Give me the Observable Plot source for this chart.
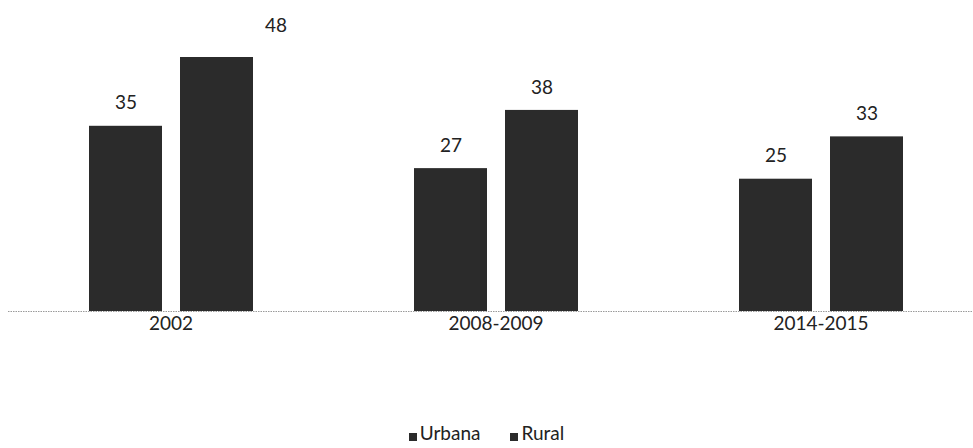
<!DOCTYPE html>
<html>
<head>
<meta charset="utf-8">
<script src="https://cdn.jsdelivr.net/npm/d3@7"></script>
<script src="https://cdn.jsdelivr.net/npm/@observablehq/plot@0.6"></script>
<style>
  html, body { margin: 0; padding: 0; background: #fff; }
  body { position: relative; width: 973px; height: 448px; overflow: hidden; font-family: Lato, "Open Sans", sans-serif; color: #222; }
  #chart svg { display: block; }
  #legend { position: absolute; left: 0; top: 423px; width: 973px; display: flex; justify-content: center; font-size: 19px; line-height: 19px; }
  .item { display: flex; align-items: flex-end; margin: 0 15px; }
  .sw { width: 8px; height: 8px; margin-right: 3px; margin-bottom: 1px; }
</style>
</head>
<body>
<div id="chart"></div>
<div id="legend"></div>
<script>
const groups = ["2002", "2008-2009", "2014-2015"];
const series = ["Urbana", "Rural"];
const urbana = [35, 27, 25];
const rural = [48, 38, 33];
const colors = ["#2b2b2b", "#2b2b2b"];

const data = groups.flatMap((g, i) => [
  {group: g, series: "Urbana", value: urbana[i]},
  {group: g, series: "Rural", value: rural[i]}
]);
const maxVal = d3.max(data, d => d.value);

const chart = Plot.plot({
  width: 973,
  height: 415,
  marginTop: 57,
  marginBottom: 104,
  marginLeft: 0,
  marginRight: 0,
  style: {fontFamily: "Lato, 'Open Sans', sans-serif", fontSize: "19px", color: "#222", background: "#fff"},
  fx: {domain: groups, range: [7.5, 982.5], padding: 0, label: null, tickSize: 0, tickPadding: 5},
  x: {domain: series, paddingInner: 0.2, paddingOuter: 0.87, axis: null},
  y: {domain: [0, 48], axis: null},
  color: {domain: series, range: colors},
  marks: [
    Plot.barY(data, {fx: "group", x: "series", y: "value", fill: "series"}),
    Plot.ruleY([0], {stroke: "#9a9a9a", strokeWidth: 1, strokeDasharray: "1.5,1"}),
    Plot.text(data.filter(d => d.value !== maxVal), {fx: "group", x: "series", y: "value", text: d => String(d.value), dy: -23, fill: "#222"}),
    Plot.text(data.filter(d => d.value === maxVal), {fx: "group", x: "series", y: "value", text: d => String(d.value), dx: 59, dy: -32, fill: "#222"})
  ]
});
document.getElementById("chart").appendChild(chart);

const legend = document.getElementById("legend");
series.forEach((s, i) => {
  const item = document.createElement("div");
  item.className = "item";
  const sw = document.createElement("span");
  sw.className = "sw";
  sw.style.background = colors[i];
  const label = document.createElement("span");
  label.textContent = s;
  item.appendChild(sw);
  item.appendChild(label);
  legend.appendChild(item);
});
</script>
</body>
</html>
